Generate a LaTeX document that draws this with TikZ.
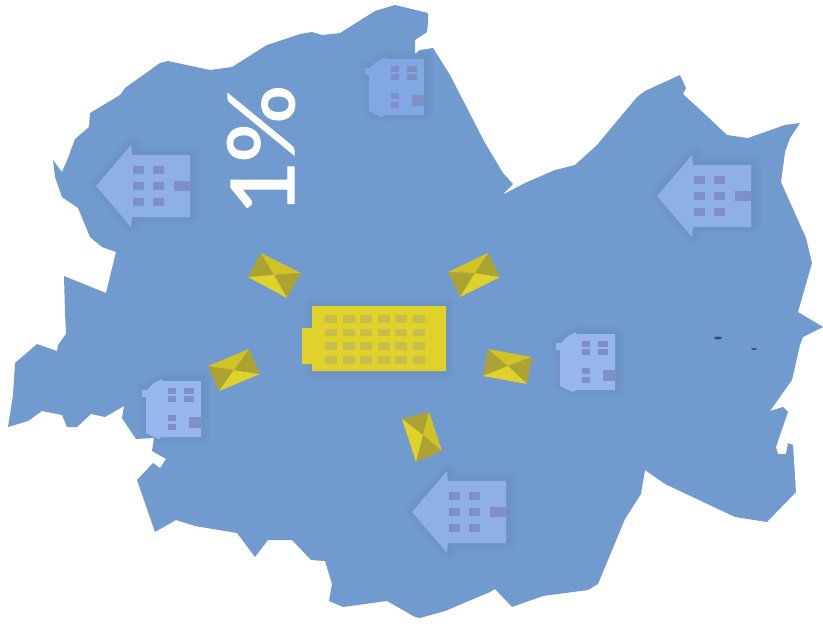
\documentclass[tikz,border=0pt]{standalone}
\usepackage{fontspec}
\setmainfont{Carlito}
\newfontfamily\sharefont[FakeBold=1.2]{Carlito}
\usepackage{tikz}
\definecolor{mymap}{RGB}{113,154,206}
\definecolor{myhalo}{RGB}{70,100,150}
\definecolor{myhouse}{RGB}{143,175,233}
\definecolor{myhousepale}{RGB}{152,182,238}
\definecolor{myhousedim}{RGB}{130,168,228}
\definecolor{mywin}{RGB}{127,143,200}
\definecolor{myyellow}{RGB}{224,210,43}
\definecolor{mymid}{RGB}{208,195,38}
\definecolor{mydark}{RGB}{173,163,50}
\definecolor{myofficewin}{RGB}{200,190,75}

% outline of the district, clockwise from the top
\newcommand{\mapoutline}{(395,5) -- (428,13) -- (428,23) -- (427,32) -- (415,40) -- (415,54) -- (420,50)
  -- (433,48) -- (450,75) -- (485,143) -- (503,173) -- (513,184) -- (502,195) -- (525,183) -- (555,170)
  -- (575,165) -- (597,145) -- (637,97) -- (645,91) -- (680,75) -- (686,88) -- (683,94) -- (709,118)
  -- (727,135) -- (748,138) -- (785,125) -- (800,123) -- (790,138) -- (785,152) -- (784,160) -- (781,182)
  -- (806,238) -- (812,263) -- (798,312) -- (823,327) -- (803,337) -- (800,345) -- (792,380) -- (770,411)
  -- (783,407) -- (788,412) -- (776,447) -- (778,454) -- (786,454) -- (788,443) -- (793,445) -- (796,492)
  -- (767,522) -- (735,517) -- (665,484) -- (645,470) -- (641,494) -- (625,519) -- (598,584) -- (588,590)
  -- (543,596) -- (512,607) -- (495,589) -- (490,592) -- (445,611) -- (420,618) -- (415,617) -- (387,601)
  -- (343,607) -- (329,601) -- (332,584) -- (325,561) -- (311,560) -- (292,540) -- (268,540) -- (255,557)
  -- (237,533) -- (195,526) -- (176,520) -- (155,532) -- (137,480) -- (153,463) -- (160,468) -- (166,459)
  -- (152,451) -- (154,438) -- (136,439) -- (122,418) -- (124,406) -- (105,417) -- (91,414) -- (77,427)
  -- (67,427) -- (62,415) -- (42,411) -- (28,421) -- (8,427) -- (13,395) -- (15,363) -- (37,344)
  -- (57,351) -- (58,345) -- (66,334) -- (65,312) -- (64,276) -- (106,293) -- (116,252) -- (102,247)
  -- (90,237) -- (78,208) -- (62,197) -- (55,177) -- (53,160) -- (62,172) -- (68,158) -- (75,139)
  -- (89,127) -- (90,113) -- (120,95) -- (125,88) -- (160,63) -- (168,61) -- (210,70) -- (232,67)
  -- (267,45) -- (300,34) -- (312,32) -- (322,35) -- (340,33) -- (375,11) -- cycle}

% house with the big roof, seen from above
\newcommand{\bighouse}[2]{
\begin{scope}[shift={(#1,#2)}]
  \def\houseshape{(96,186) -- (131,145) -- (132,155) -- (190,155) -- (190,217) -- (132,217) -- (131,227) -- cycle}
  \foreach \w in {16,10,5} {
    \draw [myhalo,opacity=0.04,line width=\w pt,line join=round,shift={(2,-1)}] \houseshape;
  }
  \fill [myhouse] \houseshape;
  \foreach \x in {133,153} {
    \foreach \y in {166,182,198} {
      \fill [mywin] (\x,\y) rectangle ++(10.5,7.5);
    }
  }
  \fill [mywin] (174,181) rectangle (190,191);
\end{scope}
}

% small house with a porch
\newcommand{\smallhouse}[3]{
\begin{scope}[shift={(#1,#2)}]
  \def\houseshape{(162,379) -- (162,381) -- (201,381) -- (201,437) -- (162,437) -- (159,439) -- (154,437)
     -- (146,433) -- (146,397) -- (142,397) -- (142,390) -- (147,390) -- (154,383) -- cycle}
  \foreach \w in {14,9,4} {
    \draw [myhalo,opacity=0.04,line width=\w pt,line join=round,shift={(2,-1)}] \houseshape;
  }
  \fill [#3] \houseshape;
  \foreach \y in {388,395.5} {
    \fill [mywin] (168,\y) rectangle ++(8,6);
    \fill [mywin] (184,\y) rectangle ++(10,6);
  }
  \fill [mywin] (168,415) rectangle (176,421);
  \fill [mywin] (168,424) rectangle (176,430);
  \fill [mywin] (189,417) rectangle (201,428);
\end{scope}
}

% four sided roof: corners, then the middle; last two colours are for sides 2 and 4
\newcommand{\hiproof}[7]{
  \fill [mydark] #1 -- #2 -- #5 -- cycle;
  \fill [#6] #2 -- #3 -- #5 -- cycle;
  \fill [mydark] #3 -- #4 -- #5 -- cycle;
  \fill [#7] #4 -- #1 -- #5 -- cycle;
}

\begin{document}
\begin{tikzpicture}[x=1pt,y=-1pt]
    \useasboundingbox (0,0) rectangle (823,632);

    \fill [mymap] \mapoutline;

\begin{scope}
\clip \mapoutline;
\bighouse{0}{0}
\bighouse{561}{10}
\bighouse{316}{326}
\smallhouse{0}{0}{myhousepale}
\smallhouse{414}{-47}{myhousepale}
\smallhouse{223}{-322}{myhousedim}

 % shadow of the office block
\foreach \w in {16,10,5} {
  \draw [myhalo,opacity=0.04,line width=\w pt,line join=round] (312,306) rectangle (446,371);
}
\end{scope}

 % office block
\fill [myyellow] (312,306) -- (446,306) -- (446,371) -- (312,371) -- (312,364) -- (302,364) -- (302,328) -- (312,328) -- cycle;
\foreach \x in {325,342.6,360.2,377.8,395.4,413} {
  \foreach \y in {315,328.5,342,356} {
    \fill [myofficewin] (\x,\y) rectangle ++(12,7.5);
  }
}

 % roofs around the block
\hiproof{(248,277)}{(261,253)}{(301,273)}{(287,298)}{(274,275)}{mymid}{myyellow}
\hiproof{(448,272)}{(460,297)}{(500,277)}{(488,253)}{(475,273)}{myyellow}{mymid}
\hiproof{(208,366)}{(219,391)}{(260,374)}{(249,349)}{(234,370)}{myyellow}{mymid}
\hiproof{(483,376)}{(488,349)}{(532,357)}{(527,384)}{(508,366)}{mymid}{myyellow}
\hiproof{(402,419)}{(429,412)}{(442,451)}{(416,462)}{(423,435)}{mymid}{myyellow}

 % two specks on the print
\fill [black!50!mymap] (718,338) ellipse (4 and 1.5);
\fill [black!40!mymap] (754,349) ellipse (3 and 1);

\node (share) [white,rotate=90,xscale=1.1,transform shape,inner sep=0pt,font=\fontsize{98}{98}\sharefont] at (261,151) {1\%};
\end{tikzpicture}
\end{document}
